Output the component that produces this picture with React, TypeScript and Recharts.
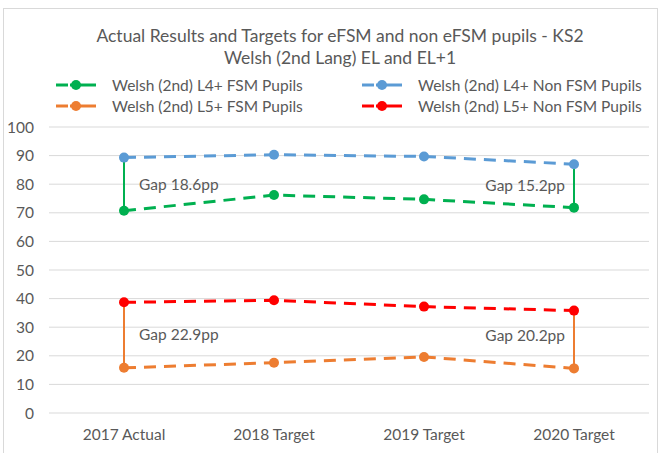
import React from 'react';
import { LineChart, Line, XAxis, YAxis, CartesianGrid, ReferenceLine } from 'recharts';

const categories = ['2017 Actual', '2018 Target', '2019 Target', '2020 Target'];
const l4Fsm = [70.7, 76.2, 74.7, 71.8];
const l4NonFsm = [89.3, 90.3, 89.7, 87.0];
const l5Fsm = [15.8, 17.6, 19.6, 15.6];
const l5NonFsm = [38.7, 39.4, 37.2, 35.8];
const yTicks = [0, 10, 20, 30, 40, 50, 60, 70, 80, 90, 100];

const series = [
  { key: 'l4Fsm', name: 'Welsh (2nd) L4+ FSM Pupils', color: '#00B050' },
  { key: 'l4NonFsm', name: 'Welsh (2nd) L4+ Non FSM Pupils', color: '#5B9BD5' },
  { key: 'l5Fsm', name: 'Welsh (2nd) L5+ FSM Pupils', color: '#ED7D31' },
  { key: 'l5NonFsm', name: 'Welsh (2nd) L5+ Non FSM Pupils', color: '#FF0000' },
];

const data = categories.map((name, i) => ({
  name,
  l4Fsm: l4Fsm[i],
  l4NonFsm: l4NonFsm[i],
  l5Fsm: l5Fsm[i],
  l5NonFsm: l5NonFsm[i],
}));

const FONT = 'Lato, "Liberation Sans", sans-serif';
const TEXT = '#595959';

// the gap bars at the first and last category
const gapIdx = [0, categories.length - 1];
const gaps = [
  ...gapIdx.map((i) => ({ i, lo: l4Fsm[i], hi: l4NonFsm[i], color: '#00B050', dy: 0 })),
  ...gapIdx.map((i) => ({ i, lo: l5Fsm[i], hi: l5NonFsm[i], color: '#ED7D31', dy: i === 0 ? 0 : -4 })),
];

const GapLabel = (props: any) => {
  const { viewBox, text, side, shift } = props;
  const x = viewBox.x;
  const y = viewBox.y + viewBox.height / 2 + (shift || 0);
  return (
    <text
      x={side === 'right' ? x + 15 : x - 9}
      y={y}
      dy="0.35em"
      textAnchor={side === 'right' ? 'start' : 'end'}
      fill={TEXT}
      fontSize={15.5}
      fontFamily={FONT}
    >
      {text}
    </text>
  );
};

const LegendItem = ({ name, color, left, top }: any) => (
  <div style={{ position: 'absolute', left, top, display: 'flex', alignItems: 'center', height: 20 }}>
    <svg width={40} height={20}>
      <line x1={0} y1={10} x2={12} y2={10} stroke={color} strokeWidth={3} />
      <line x1={14} y1={10} x2={40} y2={10} stroke={color} strokeWidth={3} />
      <circle cx={20} cy={10} r={5} fill={color} />
    </svg>
    <span style={{ marginLeft: 16, fontSize: 15.5, color: TEXT, fontFamily: FONT, whiteSpace: 'nowrap' }}>{name}</span>
  </div>
);

const App: React.FC = () => {
  return (
    <div style={{ position: 'absolute', left: 0, top: 0, width: 658, height: 453, overflow: 'hidden', background: '#fff' }}>
      <div style={{ position: 'absolute', left: 3, top: 8, width: 653, height: 460, border: '1px solid #d9d9d9' }} />
      <div style={{ position: 'absolute', left: 0, top: 25, width: 680, textAlign: 'center', fontFamily: FONT, fontSize: 17.5, color: TEXT, lineHeight: '22px' }}>
        <div>Actual Results and Targets for eFSM and non eFSM pupils - KS2</div>
        <div>Welsh (2nd Lang) EL and EL+1</div>
      </div>
      <LegendItem {...series[0]} left={56} top={75} />
      <LegendItem {...series[2]} left={56} top={96} />
      <LegendItem {...series[1]} left={362} top={75} />
      <LegendItem {...series[3]} left={362} top={96} />
      <div style={{ position: 'absolute', left: 0, top: 0 }}>
        <LineChart width={658} height={453} data={data} margin={{ top: 127, right: 9, bottom: 10, left: 9 }}>
          <CartesianGrid vertical={false} stroke="#d9d9d9" strokeWidth={1} />
          <XAxis
            dataKey="name"
            padding={{ left: 75, right: 75 }}
            axisLine={false}
            tickLine={false}
            height={30}
            tickMargin={10}
            tick={{ fill: TEXT, fontSize: 15.5, fontFamily: FONT }}
          />
          <YAxis
            domain={[0, 100]}
            ticks={yTicks}
            width={40}
            axisLine={false}
            tickLine={false}
            tickMargin={9}
            interval={0}
            tick={{ fill: TEXT, fontSize: 15.5, fontFamily: FONT }}
          />
          {gaps.map((g, k) => (
            <ReferenceLine
              key={`gap-${k}`}
              segment={[
                { x: categories[g.i], y: g.lo },
                { x: categories[g.i], y: g.hi },
              ]}
              stroke={g.color}
              strokeWidth={2}
              label={<GapLabel text={`Gap ${(g.hi - g.lo).toFixed(1)}pp`} side={g.i === 0 ? 'right' : 'left'} shift={g.dy} />}
            />
          ))}
          {series.map((s) => (
            <Line
              key={s.key}
              dataKey={s.key}
              name={s.name}
              stroke={s.color}
              strokeWidth={3}
              strokeDasharray="12 8"
              dot={{ r: 5, fill: s.color, stroke: s.color, strokeWidth: 0 }}
              isAnimationActive={false}
            />
          ))}
        </LineChart>
      </div>
    </div>
  );
};

export default App;
